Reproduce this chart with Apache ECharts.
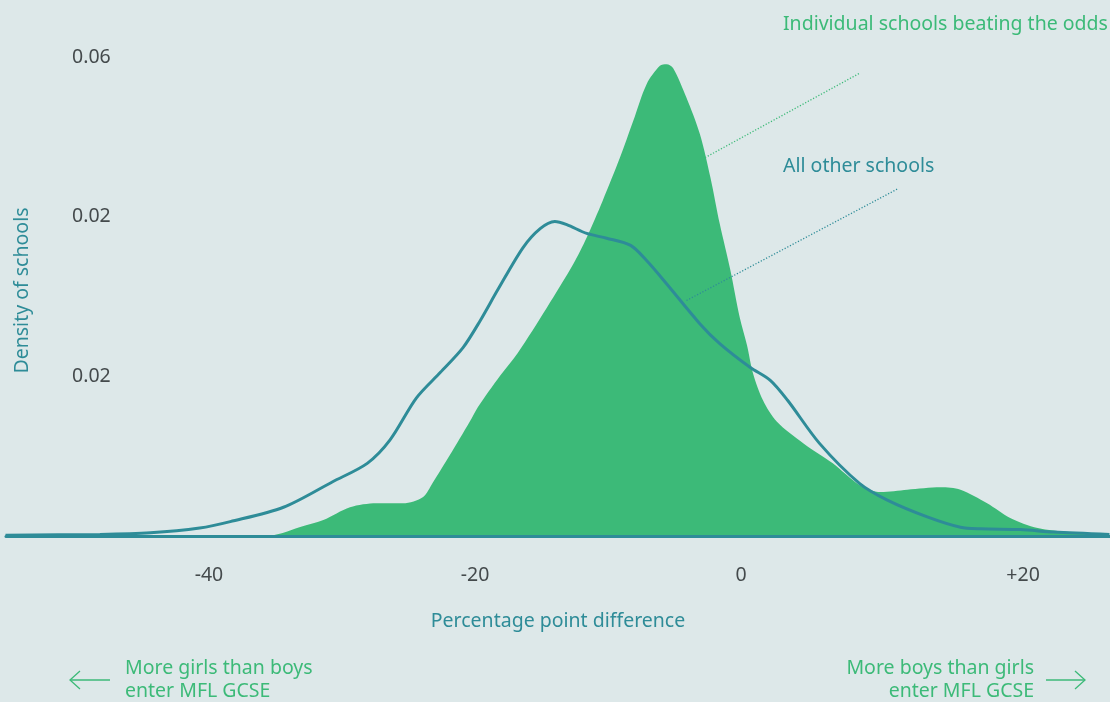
<!DOCTYPE html>
<html><head><meta charset="utf-8">
<script src="https://cdn.jsdelivr.net/npm/echarts@6/dist/echarts.min.js"></script>
<style>html,body{margin:0;padding:0;background:#dde8e9;}#c{width:1110px;height:702px;}</style>
</head><body><div id="c"></div>
<script>
// Individual schools beating the odds (x = percentage point difference, y = density)
const beatingX = [-35.4,-34.4,-33.2,-31.4,-29.4,-27.4,-25.4,-23.9,-23.2,-21.9,-20.4,-19.8,-18.1,-16.8,-14.6,-12.6,-11.6,-10.4,-9.1,-8.1,-7.1,-6.1,-5.6,-5.1,-4.1,-3.1,-2.3,-1.6,-0.8,-0.1,0.45,0.9,1.65,2.7,4.7,6.9,8.9,10.5,12.5,15.0,16.5,18.5,20.2,22.3,24.7,27.7];
const beatingY = [0,0.0004,0.0011,0.002,0.0036,0.0041,0.0041,0.0049,0.0066,0.0101,0.0143,0.0161,0.0201,0.0229,0.0286,0.0341,0.0374,0.042,0.0474,0.052,0.0566,0.0589,0.0591,0.0586,0.0549,0.0504,0.0449,0.0391,0.0333,0.0274,0.0239,0.0204,0.017,0.0143,0.0116,0.0091,0.0064,0.0055,0.0058,0.0061,0.0058,0.0041,0.0023,0.001,0.0005,0.0002];
// All other schools
const otherX = [-55.3,-48.2,-44.4,-40.7,-38.4,-34.4,-30.7,-28.1,-26.4,-24.4,-22.6,-20.9,-19.6,-18.3,-16.4,-15.1,-14.0,-13.1,-11.6,-10.1,-8.3,-7.1,-5.6,-3.1,-1.6,0.7,2.2,3.5,5.9,8.9,11.0,14.0,16.5,18.0,21.0,23.5,27.7];
const otherY = [0.0001,0.0002,0.0004,0.001,0.0018,0.0036,0.0068,0.0091,0.012,0.0173,0.0205,0.0236,0.027,0.0308,0.0361,0.0385,0.0394,0.039,0.0379,0.0373,0.0364,0.0345,0.0316,0.0266,0.0241,0.0211,0.0195,0.017,0.0116,0.0066,0.0045,0.0024,0.0011,0.0009,0.0008,0.0005,0.0002];
const xTicks = [-40,-20,0,20];
const xTickLabels = ['-40','-20','0','+20'];
const yTicks = [0.02,0.04,0.06];
const yTickLabels = ['0.02','0.02','0.06'];

const GREEN = '#3cba78', TEAL = '#2e8c98', GREY = '#444a4c';
const FONT = '"Noto Sans", sans-serif';
const AFONT = '19.5px "Noto Sans", sans-serif';
const chart = echarts.init(document.getElementById('c'));
chart.setOption({
  backgroundColor: '#dde8e9',
  animation: false,
  textStyle: {fontFamily: FONT},
  grid: {left: 6, right: 0, top: 57, bottom: 166},
  xAxis: {
    type: 'value', min: -55.26, max: 27.74, z: 5,
    axisLine: {show: true, onZero: false, lineStyle: {color: TEAL, width: 3}},
    axisTick: {show: false},
    splitLine: {show: false},
    axisLabel: {
      customValues: xTicks, margin: 29, fontSize: 19.5, color: GREY, fontFamily: FONT,
      formatter: v => { const i = xTicks.indexOf(v); const t = i >= 0 ? xTickLabels[i] : ''; return v === 20 ? '{r|' + t + '}' : t; },
      rich: {r: {padding: [0, 0, 0, 32], fontSize: 19.5, color: GREY, fontFamily: FONT}}
    },
    name: 'Percentage point difference', nameLocation: 'middle', nameGap: 75,
    nameTextStyle: {color: TEAL, fontSize: 19.5, fontFamily: FONT}
  },
  yAxis: {
    type: 'value', min: 0, max: 0.06,
    axisLine: {show: false}, axisTick: {show: false}, splitLine: {show: false},
    axisLabel: {
      customValues: yTicks, inside: true, margin: 66, fontSize: 19.5, color: GREY, fontFamily: FONT,
      formatter: v => { const i = yTicks.findIndex(t => Math.abs(t - v) < 1e-9); return i >= 0 ? yTickLabels[i] : ''; }
    },
    name: 'Density of schools', nameLocation: 'middle', nameGap: -26, nameRotate: 90,
    nameTextStyle: {color: TEAL, fontSize: 19.5, fontFamily: FONT, padding: [0, 0, 0, 12]}
  },
  series: [
    {
      name: 'Individual schools beating the odds', type: 'line', smooth: 0.3, symbol: 'none',
      data: beatingX.map((x, i) => [x, beatingY[i]]),
      lineStyle: {width: 0}, areaStyle: {color: GREEN, opacity: 1}, z: 2,
      markLine: {
        silent: true, symbol: 'none', label: {show: false},
        lineStyle: {color: GREEN, type: [1.2, 1.8], width: 1.3, opacity: 1},
        data: [[{coord: [-2.7, 0.0474]}, {coord: [8.95, 0.058]}]]
      }
    },
    {
      name: 'All other schools', type: 'line', smooth: 0.3, symbol: 'none',
      data: otherX.map((x, i) => [x, otherY[i]]),
      lineStyle: {color: TEAL, width: 3}, z: 3,
      markLine: {
        silent: true, symbol: 'none', label: {show: false},
        lineStyle: {color: TEAL, type: [1.2, 1.8], width: 1.3, opacity: 1},
        data: [[{coord: [-4.1, 0.0295]}, {coord: [11.8, 0.0435]}]]
      }
    }
  ],
  graphic: [
    {type: 'text', x: 783, y: 24, style: {text: 'Individual schools beating the odds', fill: GREEN, font: AFONT, verticalAlign: 'middle'}},
    {type: 'text', x: 783, y: 166, style: {text: 'All other schools', fill: TEAL, font: AFONT, verticalAlign: 'middle'}},
    {type: 'text', x: 125, y: 668, style: {text: 'More girls than boys', fill: GREEN, font: AFONT, verticalAlign: 'middle'}},
    {type: 'text', x: 125, y: 691, style: {text: 'enter MFL GCSE', fill: GREEN, font: AFONT, verticalAlign: 'middle'}},
    {type: 'text', x: 1034, y: 668, style: {text: 'More boys than girls', fill: GREEN, font: AFONT, verticalAlign: 'middle', align: 'right'}},
    {type: 'text', x: 1034, y: 691, style: {text: 'enter MFL GCSE', fill: GREEN, font: AFONT, verticalAlign: 'middle', align: 'right'}},
    {type: 'polyline', shape: {points: [[110, 680], [70, 680]]}, style: {stroke: GREEN, lineWidth: 1.3, fill: null}},
    {type: 'polyline', shape: {points: [[80, 671], [70, 680], [80, 689]]}, style: {stroke: GREEN, lineWidth: 1.3, fill: null}},
    {type: 'polyline', shape: {points: [[1046, 680], [1085, 680]]}, style: {stroke: GREEN, lineWidth: 1.3, fill: null}},
    {type: 'polyline', shape: {points: [[1075, 671], [1085, 680], [1075, 689]]}, style: {stroke: GREEN, lineWidth: 1.3, fill: null}}
  ]
});
</script></body></html>
